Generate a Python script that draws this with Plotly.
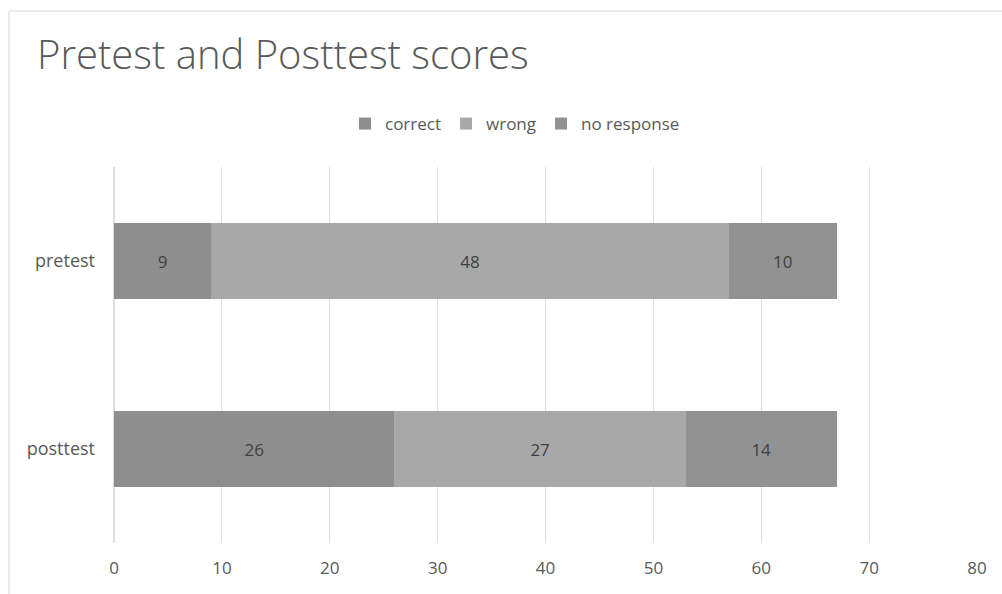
import plotly.graph_objects as go

categories = ["pretest", "posttest"]
series_names = ["correct", "wrong", "no response"]
correct = [9, 26]
wrong = [48, 27]
no_response = [10, 14]
series_values = [correct, wrong, no_response]
colors = ["#8e8e8e", "#a8a8a8", "#929292"]
x_ticks = [0, 10, 20, 30, 40, 50, 60, 70, 80]

fig = go.Figure()
for name, vals, col in zip(series_names, series_values, colors):
    fig.add_trace(go.Bar(
        y=categories, x=vals, name=name, orientation="h",
        marker=dict(color=col, line=dict(width=0)),
        text=[str(v) for v in vals], textposition="inside",
        insidetextanchor="middle",
        insidetextfont=dict(family="Open Sans", size=17, color="#404040"),
        textfont=dict(family="Open Sans", size=17, color="#404040"),
        constraintext="none",
    ))

fig.update_layout(
    barmode="stack", bargap=0.6,
    width=1002, height=594,
    margin=dict(l=114, r=25, t=167, b=51),
    paper_bgcolor="white", plot_bgcolor="white",
    uniformtext=dict(minsize=17, mode="show"),
    title=dict(text="Pretest and Posttest scores", x=37/1002, xanchor="left",
               y=1-55/594, yanchor="middle",
               font=dict(family="Open Sans", size=40, color="#595959", weight=300)),
    legend=dict(orientation="h", x=(515-114)/863, xanchor="center", y=1+(167-124)/376,
                yanchor="middle", traceorder="normal",
                font=dict(family="Open Sans", size=17, color="#595959"),
                itemwidth=30),
    showlegend=True,
)
fig.update_xaxes(range=[0, 80], tickvals=x_ticks, showgrid=True, gridcolor="#dedede",
                 gridwidth=1, zeroline=True, zerolinecolor="#dedede", showline=False,
                 ticks="", ticklabelstandoff=13,
                 tickfont=dict(family="Open Sans", size=17, color="#595959"))
fig.update_yaxes(autorange="reversed", showgrid=False, showline=False, ticks="",
                 ticklabelstandoff=18,
                 tickfont=dict(family="Open Sans", size=18, color="#595959"))

fig.add_shape(type="line", xref="paper", yref="paper",
              x0=(9-114)/863, x1=(9-114)/863, y0=-51/376, y1=1+(167-11)/376,
              line=dict(color="#d9d9d9", width=1))
fig.add_shape(type="line", xref="paper", yref="paper",
              x0=(9-114)/863, x1=1+25/863, y0=1+(167-11)/376, y1=1+(167-11)/376,
              line=dict(color="#d9d9d9", width=1))

fig.write_html("out.html")
